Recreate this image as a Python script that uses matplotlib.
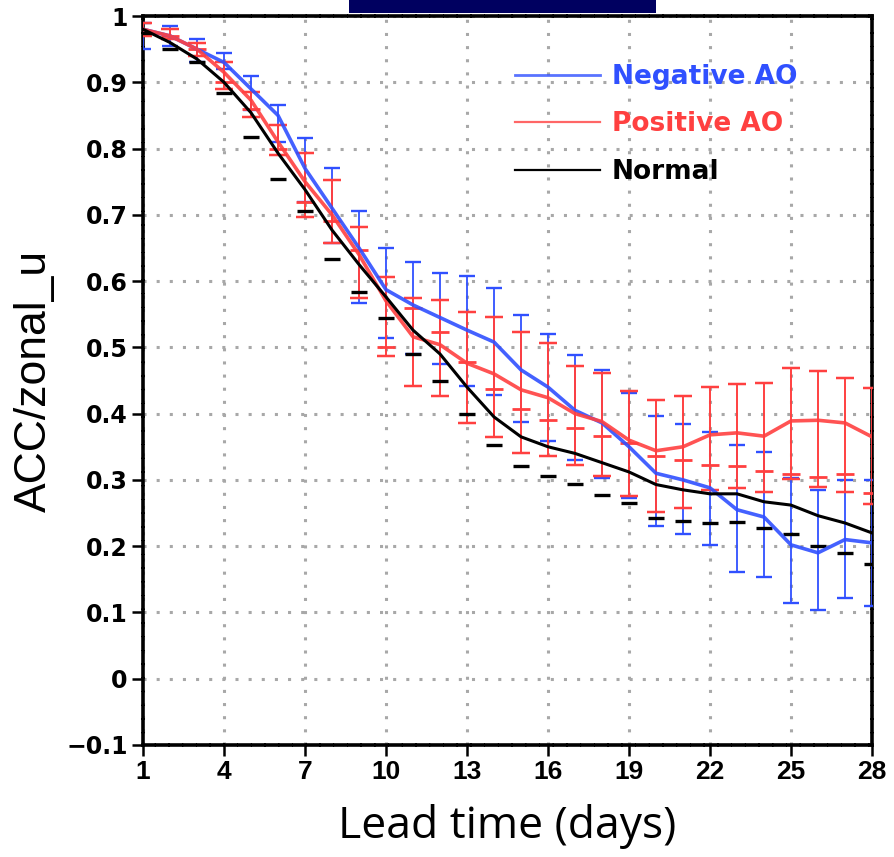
import numpy as np
import matplotlib
matplotlib.use("Agg")
import matplotlib.pyplot as plt
from matplotlib.lines import Line2D
from matplotlib.patches import Rectangle


# =========================================================
# DATOS
# =========================================================

days = np.arange(1, 29)

negative_ao = [0.98, 0.97, 0.95, 0.93, 0.89, 0.85, 0.77, 0.71, 0.65, 0.587,
               0.564, 0.545, 0.526, 0.508, 0.466, 0.44, 0.405, 0.386, 0.35, 0.31,
               0.30, 0.288, 0.255, 0.244, 0.202, 0.19, 0.21, 0.205]
negative_lo = [0.95, 0.955, 0.93, 0.92, 0.858, 0.81, 0.72, 0.657, 0.567, 0.514,
               0.49, 0.475, 0.442, 0.428, 0.388, 0.359, 0.33, 0.303, 0.273, 0.23,
               0.218, 0.202, 0.161, 0.154, 0.115, 0.103, 0.122, 0.109]
negative_hi = [0.99, 0.985, 0.965, 0.944, 0.91, 0.866, 0.816, 0.77, 0.706, 0.65,
               0.629, 0.612, 0.608, 0.59, 0.549, 0.52, 0.489, 0.466, 0.431, 0.397,
               0.385, 0.372, 0.353, 0.342, 0.303, 0.285, 0.30, 0.30]

positive_ao = [0.98, 0.97, 0.95, 0.915, 0.873, 0.81, 0.75, 0.70, 0.64, 0.57,
               0.516, 0.504, 0.476, 0.46, 0.436, 0.424, 0.40, 0.388, 0.36, 0.344,
               0.35, 0.368, 0.371, 0.366, 0.389, 0.39, 0.386, 0.365]
positive_lo = [0.97, 0.965, 0.94, 0.89, 0.848, 0.79, 0.697, 0.657, 0.575, 0.487,
               0.442, 0.427, 0.386, 0.364, 0.34, 0.336, 0.322, 0.306, 0.275, 0.252,
               0.258, 0.285, 0.288, 0.282, 0.302, 0.29, 0.282, 0.264]
positive_mid = [0.975, 0.97, 0.95, 0.90, 0.86, 0.80, 0.72, 0.69, 0.647, 0.50,
                0.56, 0.523, 0.478, 0.437, 0.407, 0.39, 0.378, 0.367, 0.356, 0.336,
                0.33, 0.323, 0.321, 0.313, 0.309, 0.305, 0.309, 0.28]
positive_hi = [0.99, 0.98, 0.96, 0.93, 0.885, 0.836, 0.793, 0.752, 0.682, 0.606,
               0.575, 0.572, 0.554, 0.546, 0.523, 0.507, 0.472, 0.461, 0.434, 0.42,
               0.427, 0.44, 0.445, 0.446, 0.469, 0.465, 0.454, 0.439]

normal = [0.98, 0.96, 0.935, 0.90, 0.854, 0.793, 0.738, 0.677, 0.625, 0.576,
          0.526, 0.49, 0.44, 0.395, 0.365, 0.35, 0.34, 0.326, 0.312, 0.293,
          0.285, 0.279, 0.279, 0.267, 0.262, 0.246, 0.235, 0.22]
normal_lo = [0.975, 0.95, 0.93, 0.884, 0.818, 0.754, 0.706, 0.634, 0.584, 0.545,
             0.49, 0.45, 0.40, 0.353, 0.321, 0.306, 0.294, 0.277, 0.265, 0.243,
             0.238, 0.235, 0.236, 0.228, 0.218, 0.20, 0.19, 0.173]

series_labels = ["Negative AO", "Positive AO", "Normal"]

x_ticks = np.arange(1, 29, 3)
y_ticks = np.round(np.arange(-0.1, 1.01, 0.1), 1)
y_tick_labels = ["\u22120.1", "0", "0.1", "0.2", "0.3", "0.4", "0.5",
                 "0.6", "0.7", "0.8", "0.9", "1"]


# =========================================================
# ESTILO
# =========================================================

BLUE = "#3050ff"
RED = "#ff4040"
BLACK = "#000000"

plt.rcParams["font.family"] = ["DejaVu Sans"]

fig = plt.figure(figsize=(8.94, 8.57), dpi=100)
ax = fig.add_axes([0.16, 0.1307, 0.8154, 0.8506])


# =========================================================
# BARRAS DE ERROR
# =========================================================

def barras(lo, hi, color, capsize, lw):
    lo = np.array(lo)
    hi = np.array(hi)
    ax.errorbar(
        days, (lo + hi) / 2, yerr=(hi - lo) / 2,
        fmt="none", ecolor=color, elinewidth=lw,
        capsize=capsize, capthick=lw + 0.4, zorder=3
    )


barras(negative_lo, negative_hi, BLUE, 5.5, 1.3)
barras(positive_lo, positive_hi, RED, 6.5, 1.4)

ax.plot(days, positive_mid, ls="none", marker="_", ms=13, mew=2,
        color=RED, zorder=3)

# la normal solo muestra el tope inferior
ax.plot(days, normal_lo, ls="none", marker="_", ms=12, mew=2.4,
        color=BLACK, zorder=3)


# =========================================================
# LINEAS
# =========================================================

ax.plot(days, negative_ao, color=BLUE, lw=2.6, alpha=0.9, zorder=4)
ax.plot(days, positive_ao, color=RED, lw=2.6, alpha=0.9, zorder=4)
ax.plot(days, normal, color=BLACK, lw=2.2, zorder=5)


# =========================================================
# EJES
# =========================================================

ax.set_xlim(1, 28)
ax.set_ylim(-0.1, 1.0)

ax.set_xticks(x_ticks)
ax.set_xticklabels([str(t) for t in x_ticks], fontsize=19, fontweight="bold",
                   family=["Liberation Sans", "DejaVu Sans"])
ax.set_yticks(y_ticks)
ax.set_yticklabels(y_tick_labels, fontsize=17, fontweight="bold")

ax.tick_params(axis="both", direction="out", length=8, width=1.8,
               color=BLACK, pad=3)

ax.grid(True, color="#a8a8a8", linestyle=(0, (1, 3.3)), linewidth=2.2)
ax.set_axisbelow(True)

for spine in ax.spines.values():
    spine.set_linewidth(2.6)
    spine.set_linestyle((0, (3, 0.8)))
    spine.set_color(BLACK)

ax.set_ylabel("ACC/zonal_u", fontsize=32,
              family=["Liberation Sans", "DejaVu Sans"], labelpad=8)
ax.set_xlabel("Lead time (days)", fontsize=32,
              family=["Open Sans", "DejaVu Sans"], labelpad=14)


# =========================================================
# LEYENDA
# =========================================================

handles = [
    Line2D([], [], color=BLUE, lw=2, alpha=0.8),
    Line2D([], [], color=RED, lw=1.6, alpha=0.8),
    Line2D([], [], color=BLACK, lw=1.6),
]

leg = ax.legend(
    handles, series_labels,
    loc="upper right", bbox_to_anchor=(0.93, 0.967),
    frameon=False, handlelength=3.2, handletextpad=0.45,
    labelspacing=0.82,
    prop={"size": 19, "weight": "bold"}
)

for text, color in zip(leg.get_texts(), [BLUE, RED, BLACK]):
    text.set_color(color)


# =========================================================
# RECUADRO SUPERIOR
# =========================================================

fig.patches.append(Rectangle(
    (349 / 894, 1 - 13 / 857), 307 / 894, 13 / 857,
    transform=fig.transFigure, facecolor="#000060", edgecolor="none"
))

fig.savefig("out.png", dpi=100)
